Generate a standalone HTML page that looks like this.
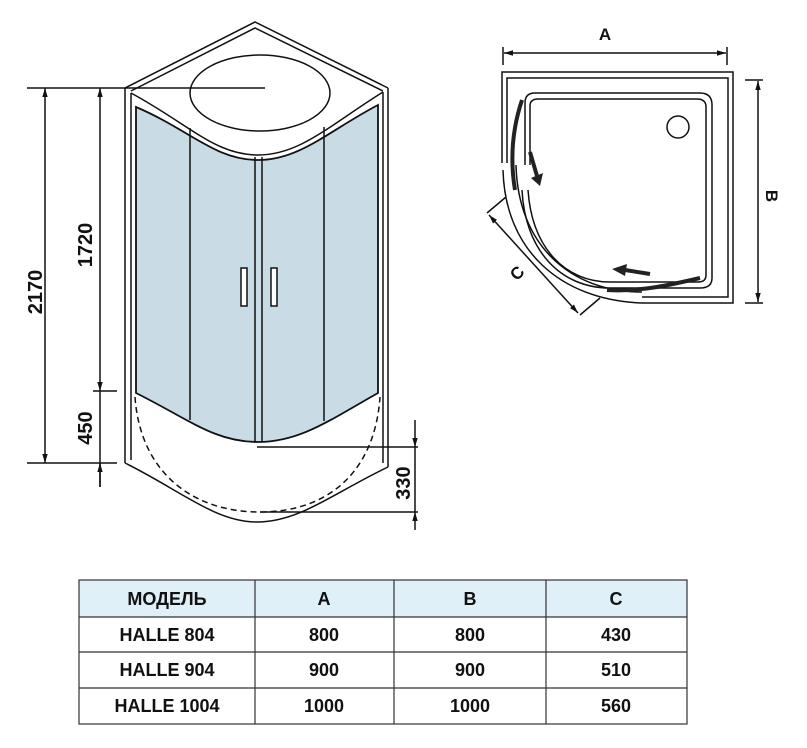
<!DOCTYPE html>
<html><head><meta charset="utf-8"><style>
html,body{margin:0;padding:0;background:#fff;width:807px;height:748px;overflow:hidden}
svg{display:block}
text{font-family:"Liberation Sans Narrow","Liberation Sans",sans-serif;font-weight:bold;fill:#111}
</style></head><body>
<svg width="807" height="748" viewBox="0 0 807 748" xmlns="http://www.w3.org/2000/svg">
<defs>
<marker id="ar" viewBox="0 0 10 10" refX="10" refY="5" markerWidth="9" markerHeight="9" orient="auto-start-reverse" markerUnits="userSpaceOnUse"><path d="M0,2 L10,5 L0,8 Z" fill="#111"/></marker>
</defs>
<g fill="none" stroke="#111" stroke-width="1.5">
<path d="M125,88 L255,22 L388,88" />
<path d="M131,91 L255,28 L383,91" />
<line x1="125" y1="88" x2="125" y2="463"/>
<line x1="131" y1="93" x2="131" y2="460"/>
<line x1="388" y1="88" x2="388" y2="467"/>
<line x1="383" y1="92" x2="383" y2="463"/>
<ellipse cx="260" cy="93" rx="70" ry="38"/>
<path d="M131,93 C190,125 215,155 258,155 C300,155 330,125 383,92"/>
<path d="M136,107 C190,130 215,160 258,160 C300,160 330,130 378,105 L378,393 C330,420 300,442 258,442 C215,442 190,420 136,393 Z" fill="#c9dbe4" stroke-width="1.8"/>
<line x1="190" y1="128" x2="190" y2="420"/>
<line x1="324" y1="127" x2="324" y2="421"/>
<line x1="255" y1="157" x2="255" y2="442"/>
<line x1="262" y1="157" x2="262" y2="442"/>
<rect x="241" y="268" width="6" height="38" fill="#fff"/>
<rect x="271" y="268" width="6" height="38" fill="#fff"/>
<path d="M125,463 C180,490 215,522 257,522 C300,522 335,492 388,467"/>
<path d="M135,397 C140,470 190,512 260,512 C330,512 375,470 380,397" stroke-dasharray="6,4"/>
<line x1="265" y1="88" x2="125" y2="88"/>
<line x1="27" y1="88" x2="125" y2="88"/>
<line x1="27" y1="463" x2="117" y2="463"/>
<line x1="45" y1="88" x2="45" y2="463" marker-start="url(#ar)" marker-end="url(#ar)"/>
<line x1="100" y1="88" x2="100" y2="391" marker-start="url(#ar)" marker-end="url(#ar)"/>
<line x1="93" y1="391" x2="117" y2="391"/>
<line x1="100" y1="391" x2="100" y2="487"/>
<line x1="100" y1="487" x2="100" y2="463" marker-end="url(#ar)"/>
<line x1="257" y1="447" x2="418" y2="447"/>
<line x1="260" y1="512" x2="418" y2="512"/>
<line x1="415" y1="420" x2="415" y2="447" marker-end="url(#ar)"/>
<line x1="415" y1="530" x2="415" y2="512" marker-end="url(#ar)"/>
<line x1="415" y1="447" x2="415" y2="512"/>
<line x1="503" y1="47" x2="503" y2="65"/>
<line x1="727" y1="47" x2="727" y2="65"/>
<line x1="504" y1="53" x2="726" y2="53" marker-start="url(#ar)" marker-end="url(#ar)"/>
<path d="M502,163 L502,72 L733,72 L733,303 L642,303"/>
<path d="M507,163 L507,78 L728,78 L728,297 L642,297"/>
<path d="M503,170 C505,250 560,300 642,303"/>
<path d="M516,165 C518,245 570,292 642,292"/>
<path d="M525,165 L525,103 Q525,93 535,93 L700,93 Q712,93 712,105 L712,278 Q712,288 700,288 L610,288 C560,288 525,250 522,190"/>
<path d="M530,165 L530,106 Q530,99 538,99 L697,99 Q706,99 706,107 L706,275 Q706,282 698,282 L610,282 C565,282 532,248 528,190"/>
<circle cx="678" cy="127" r="11"/>
<line x1="745" y1="80" x2="763" y2="80"/>
<line x1="745" y1="303" x2="763" y2="303"/>
<line x1="758" y1="81" x2="758" y2="302" marker-start="url(#ar)" marker-end="url(#ar)"/>
<line x1="487" y1="213" x2="506" y2="197"/>
<line x1="580" y1="315" x2="600" y2="298"/>
<line x1="489" y1="215" x2="578" y2="313" marker-start="url(#ar)" marker-end="url(#ar)"/>
</g>
<g fill="none" stroke="#222" stroke-width="4">
<path d="M522,100 C512,130 510,160 515,190"/>
<path d="M607,290 C640,292 670,285 700,278"/>
<line x1="530" y1="152" x2="537" y2="176"/>
<line x1="650" y1="274" x2="625" y2="270"/>
</g>
<path d="M531,178 L543,173 L540,186 Z" fill="#222"/>
<path d="M627,264 L612,269 L625,276 Z" fill="#222"/>
<text x="605" y="40" font-size="17" text-anchor="middle">A</text>
<text transform="translate(766,196) rotate(90)" font-size="17" text-anchor="middle">B</text>
<text transform="translate(518,274) rotate(-45)" font-size="17" text-anchor="middle" dominant-baseline="middle">C</text>
<text transform="translate(42,292) rotate(-90)" font-size="20" text-anchor="middle">2170</text>
<text transform="translate(92,245) rotate(-90)" font-size="20" text-anchor="middle">1720</text>
<text transform="translate(92,428) rotate(-90)" font-size="20" text-anchor="middle">450</text>
<text transform="translate(410,483) rotate(-90)" font-size="20" text-anchor="middle">330</text>
<rect x="79" y="580" width="608" height="37" fill="#dff0f9"/>
<g stroke="#333" stroke-width="1.2" fill="none">
<rect x="79" y="580" width="608" height="144"/>
<line x1="79" y1="617" x2="687" y2="617"/>
<line x1="79" y1="652" x2="687" y2="652"/>
<line x1="79" y1="688" x2="687" y2="688"/>
<line x1="255" y1="580" x2="255" y2="724"/>
<line x1="394" y1="580" x2="394" y2="724"/>
<line x1="546" y1="580" x2="546" y2="724"/>
</g>
<g font-size="18" text-anchor="middle">
<text x="167" y="605">МОДЕЛЬ</text><text x="324" y="605">A</text><text x="470" y="605">B</text><text x="616" y="605">C</text>
<text x="167" y="641">HALLE 804</text><text x="324" y="641">800</text><text x="470" y="641">800</text><text x="616" y="641">430</text>
<text x="167" y="676">HALLE 904</text><text x="324" y="676">900</text><text x="470" y="676">900</text><text x="616" y="676">510</text>
<text x="167" y="712">HALLE 1004</text><text x="324" y="712">1000</text><text x="470" y="712">1000</text><text x="616" y="712">560</text>
</g>
</svg>
</body></html>
